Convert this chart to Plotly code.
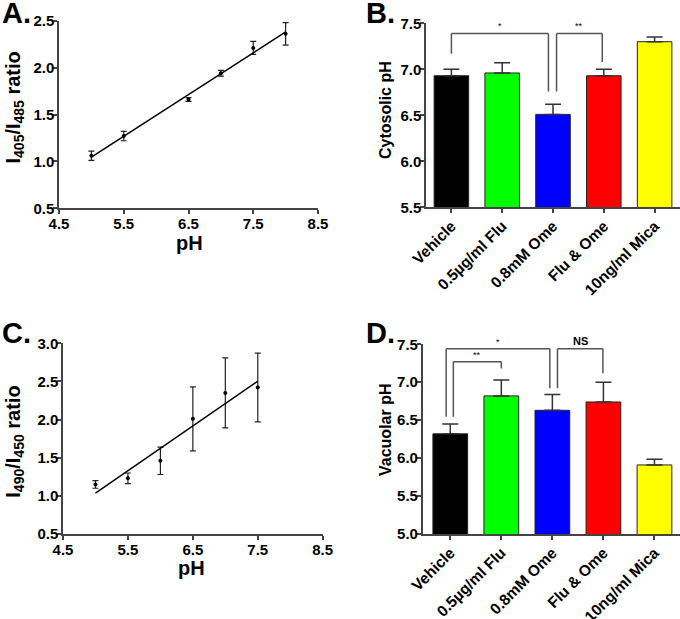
import numpy as np
import plotly.graph_objects as go

# ---------------- data ----------------
ph_a = [5.0, 5.5, 6.5, 7.0, 7.5, 8.0]
ratio_a = [1.06, 1.27, 1.66, 1.94, 2.21, 2.36]
err_a = [0.05, 0.05, 0.02, 0.03, 0.07, 0.12]

ph_c = [5.0, 5.5, 6.0, 6.5, 7.0, 7.5]
ratio_c = [1.15, 1.23, 1.46, 2.01, 2.35, 2.42]
err_c = [0.05, 0.07, 0.18, 0.42, 0.46, 0.45]

treatments = ["Vehicle", "0.5µg/ml Flu", "0.8mM Ome", "Flu & Ome", "10ng/ml Mica"]
bar_colors = ["#000000", "#00ff00", "#0000ff", "#ff0000", "#ffff00"]
cyto_ph = [6.93, 6.96, 6.51, 6.93, 7.30]
cyto_err = [0.07, 0.11, 0.11, 0.07, 0.05]
vac_ph = [6.32, 6.82, 6.63, 6.74, 5.91]
vac_err = [0.13, 0.21, 0.21, 0.26, 0.075]

ph_ticks = [4.5, 5.5, 6.5, 7.5, 8.5]
ratio_ticks_a = [0.5, 1.0, 1.5, 2.0, 2.5]
ratio_ticks_c = [0.5, 1.0, 1.5, 2.0, 2.5, 3.0]
cyto_ticks = [5.5, 6.0, 6.5, 7.0, 7.5]
vac_ticks = [5.0, 5.5, 6.0, 6.5, 7.0, 7.5]

# significance brackets: (left idx, right idx, top, left bottom, right bottom, label)
cyto_brackets = [
    (0.0, 1.91, 7.39, 7.17, 6.76, "*"),
    (2.07, 2.97, 7.39, 6.76, 7.08, "**"),
]
vac_brackets = [
    (-0.08, 1.95, 7.44, 6.545, 6.92, "*"),
    (0.06, 1.0, 7.27, 6.545, 7.18, "**"),
    (2.1, 2.99, 7.44, 6.92, 7.12, "NS"),
]

W, H = 680, 619
FONT = "Liberation Sans, Arial, sans-serif"
AX = "#444444"


def px(x):
    return x / W


def py(y):
    return 1 - y / H


fig = go.Figure()

# ---- Panel A ----
fig.add_trace(go.Scatter(
    x=ph_a, y=ratio_a, mode="markers", xaxis="x", yaxis="y",
    marker=dict(color="black", size=4),
    error_y=dict(type="data", array=err_a, color="#222", thickness=1.2, width=3),
    showlegend=False))
ka, ba = np.polyfit(ph_a, ratio_a, 1)
xa = [min(ph_a), max(ph_a)]
fig.add_trace(go.Scatter(x=xa, y=[ka * v + ba for v in xa], mode="lines",
                         xaxis="x", yaxis="y", line=dict(color="black", width=1.5),
                         showlegend=False))

# ---- Panel C ----
fig.add_trace(go.Scatter(
    x=ph_c, y=ratio_c, mode="markers", xaxis="x3", yaxis="y3",
    marker=dict(color="black", size=4),
    error_y=dict(type="data", array=err_c, color="#222", thickness=1.2, width=3),
    showlegend=False))
kc, bc = np.polyfit(ph_c, ratio_c, 1)
xc = [min(ph_c), max(ph_c)]
fig.add_trace(go.Scatter(x=xc, y=[kc * v + bc for v in xc], mode="lines",
                         xaxis="x3", yaxis="y3", line=dict(color="black", width=1.5),
                         showlegend=False))

# ---- Panel B ----
fig.add_trace(go.Bar(
    x=treatments, y=cyto_ph, xaxis="x2", yaxis="y2",
    marker=dict(color=bar_colors, line=dict(color="#222", width=1)),
    error_y=dict(type="data", symmetric=False, array=cyto_err,
                 arrayminus=[0] * len(cyto_err), color="#333", thickness=1.5, width=8),
    showlegend=False))

# ---- Panel D ----
fig.add_trace(go.Bar(
    x=treatments, y=vac_ph, xaxis="x4", yaxis="y4",
    marker=dict(color=bar_colors, line=dict(color="#222", width=1)),
    error_y=dict(type="data", symmetric=False, array=vac_err,
                 arrayminus=[0] * len(vac_err), color="#333", thickness=1.5, width=8),
    showlegend=False))

shapes = []
annotations = []


def add_brackets(brackets, xref, yref):
    for x0, x1, top, b0, b1, lab in brackets:
        for (xa0, ya0, xa1, ya1) in [(x0, b0, x0, top), (x0, top, x1, top), (x1, top, x1, b1)]:
            shapes.append(dict(type="line", xref=xref, yref=yref, x0=xa0, y0=ya0,
                               x1=xa1, y1=ya1, line=dict(color="#555", width=1.5)))
        if lab == "NS":
            fnt = dict(family=FONT, size=11, color="black", weight="bold")
        else:
            fnt = dict(family=FONT, size=9, color="black")
        annotations.append(dict(x=(x0 + x1) / 2, y=top, xref=xref, yref=yref, text=lab,
                                showarrow=False, xanchor="center", yanchor="bottom",
                                font=fnt))


add_brackets(cyto_brackets, "x2", "y2")
add_brackets(vac_brackets, "x4", "y4")

tickfont = dict(family=FONT, size=15, color="black", weight="bold")
catfont = dict(family=FONT, size=15.5, color="black", weight="bold")
common = dict(showline=True, linecolor=AX, linewidth=1.5, ticks="outside",
              ticklen=4, tickwidth=1.5, tickcolor=AX, showgrid=False, zeroline=False,
              automargin=False)
xnum = dict(tickfont=tickfont, ticklabelstandoff=-3, **common)
ynum = dict(tickfont=tickfont, ticklabelstandoff=-4, **common)
xcat = dict(tickfont=catfont, ticklabelstandoff=-2, tickangle=-45, type="category", **common)

fig.update_layout(
    width=W, height=H, autosize=False,
    margin=dict(l=0, r=0, t=0, b=0, autoexpand=False),
    paper_bgcolor="white", plot_bgcolor="white",
    bargap=0.32,
    xaxis=dict(domain=[px(59), px(318)], anchor="y", range=[4.5, 8.5],
               tickvals=ph_ticks, tickformat=".1f", **xnum),
    yaxis=dict(domain=[py(208.3), py(20.7)], anchor="x", range=[0.5, 2.5],
               tickvals=ratio_ticks_a, tickformat=".1f", **ynum),
    xaxis2=dict(domain=[px(426), 1.0], anchor="y2", range=[-0.5, 4.5], **xcat),
    yaxis2=dict(domain=[py(207.3), py(23.3)], anchor="x2", range=[5.5, 7.5],
                tickvals=cyto_ticks, tickformat=".1f", **ynum),
    xaxis3=dict(domain=[px(63), px(322.7)], anchor="y3", range=[4.5, 8.5],
                tickvals=ph_ticks, tickformat=".1f", **xnum),
    yaxis3=dict(domain=[py(534), py(343.3)], anchor="x3", range=[0.5, 3.0],
                tickvals=ratio_ticks_c, tickformat=".1f", **ynum),
    xaxis4=dict(domain=[px(422.7), 1.0], anchor="y4", range=[-0.54, 4.5], **xcat),
    yaxis4=dict(domain=[py(534), py(344.3)], anchor="x4", range=[5.0, 7.5],
                tickvals=vac_ticks, tickformat=".1f", **ynum),
)

title_font = dict(family=FONT, size=20, color="black", weight="bold")
small_title = dict(family=FONT, size=16, color="black", weight="bold")
letter_font = dict(family=FONT, size=29, color="black", weight="bold")

paper_ann = [
    dict(x=px(14), y=py(107.5), text="I<sub>405</sub>/I<sub>485</sub> ratio", textangle=-90,
         font=title_font),
    dict(x=px(189.5), y=py(243), text="pH", font=title_font),
    dict(x=px(385), y=py(110), text="Cytosolic pH", textangle=-90, font=small_title),
    dict(x=px(15), y=py(441.7), text="I<sub>490</sub>/I<sub>450</sub> ratio", textangle=-90,
         font=title_font),
    dict(x=px(191.7), y=py(568), text="pH", font=title_font),
    dict(x=px(385), y=py(430), text="Vacuolar pH", textangle=-90, font=small_title),
    dict(x=px(0), y=py(12.5), text="A.", xanchor="left", font=letter_font),
    dict(x=px(364), y=py(13.5), text="B.", xanchor="left", font=letter_font),
    dict(x=px(0), y=py(333), text="C.", xanchor="left", font=letter_font),
    dict(x=px(364), y=py(333), text="D.", xanchor="left", font=letter_font),
]
for a in paper_ann:
    a.setdefault("xanchor", "center")
    a.update(xref="paper", yref="paper", showarrow=False, yanchor="middle")
annotations += paper_ann

fig.update_layout(shapes=shapes, annotations=annotations)
fig.write_html("out.html", config={"displayModeBar": False},
               post_script="document.body.style.margin='0';"
                           "document.body.style.overflow='hidden';")
